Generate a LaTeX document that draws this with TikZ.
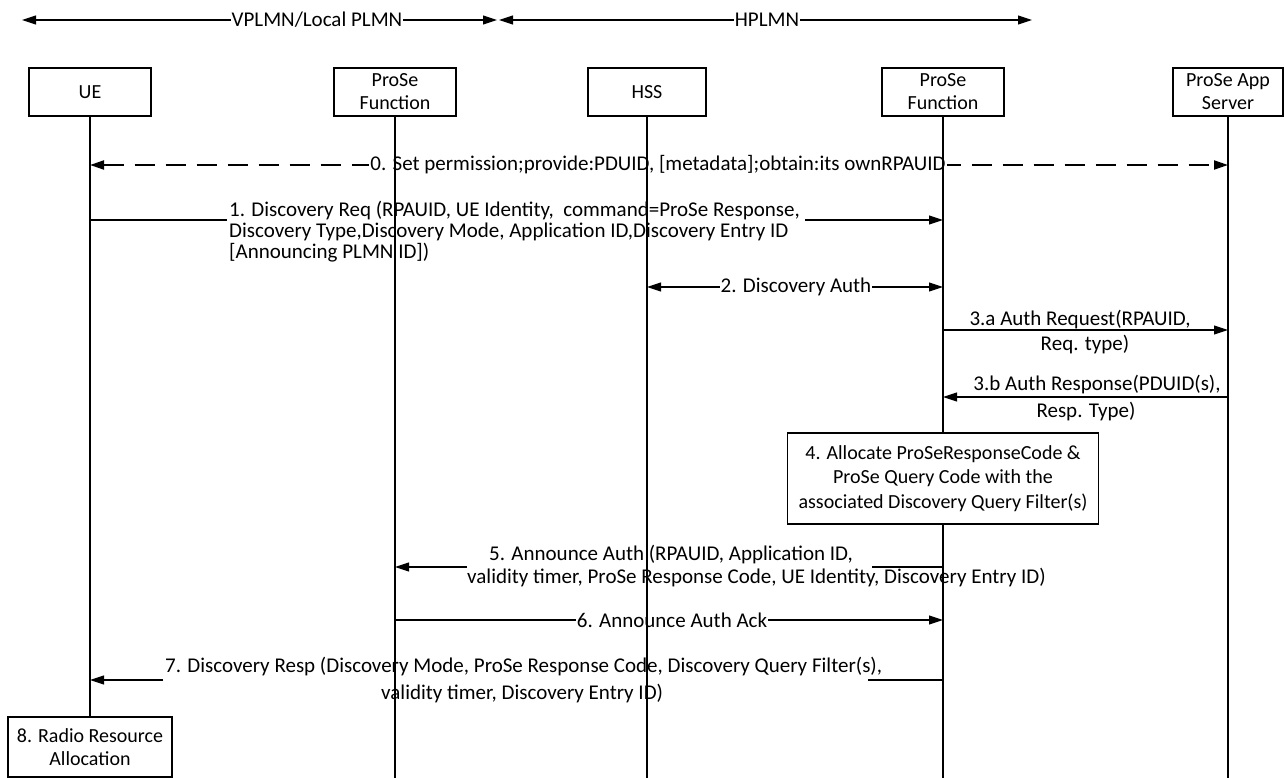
\documentclass[tikz,border=0pt]{standalone}
\usepackage{fontspec}
\setmainfont{Carlito}
\usetikzlibrary{arrows.meta}
\begin{document}
\begin{tikzpicture}[x=1pt,y=-1pt,
  every node/.style={font=\fontsize{21}{24}\selectfont, inner sep=0pt},
  actor/.style={draw, line width=1.1pt, minimum width=122pt, minimum height=48pt, align=center, fill=white, font=\fontsize{20}{24}\selectfont},
  procbox/.style={draw, line width=1.1pt, fill=white, align=center, font=\fontsize{20}{24}\selectfont},
  lifeline/.style={line width=1.1pt},
  msg/.style={line width=1.1pt},
  arrowend/.style={-{Triangle[length=14pt,width=9pt]}},
  twoheads/.style={{Triangle[length=14pt,width=9pt]}-{Triangle[length=14pt,width=9pt]}},
  dashmsg/.style={line width=2pt, dash pattern=on 20pt off 11pt},
  lbl/.style={fill=white, inner xsep=1pt, inner ysep=3pt},
  txt/.style={inner sep=0pt}]
\useasboundingbox (0,0) rectangle (1284,778);

% header arrows
\coordinate (hl1) at (22,20);
\coordinate (hr1) at (497,20);
\coordinate (hl2) at (499,20);
\coordinate (hr2) at (1032,20);
\draw[msg, twoheads] (hl1) -- (hr1);
\draw[msg, twoheads] (hl2) -- (hr2);
\node[lbl] (vplmn) at (317,20) {VPLMN/Local PLMN};
\node[lbl] (hplmn) at (767,20) {HPLMN};

% actors
\node[actor] (ue) at (90,92) {UE};
\node[actor] (pf1) at (395,92) {ProSe\\[-1pt]Function};
\node[actor, minimum width=118pt] (hss) at (647,92) {HSS};
\node[actor] (pf2) at (943,92) {ProSe\\[-1pt]Function};
\node[actor, minimum width=110pt] (as) at (1228,92) {ProSe App\\[-1pt]Server};
\coordinate (bot) at (0,778);

% message coordinates
\coordinate (m0) at (0,165);
\coordinate (m1a) at (227,220);
\coordinate (m1b) at (805,220);
\coordinate (m2) at (0,287);
\coordinate (m3a) at (0,330);
\coordinate (m3b) at (0,397);
\coordinate (m5a) at (467,567);
\coordinate (m5b) at (872,567);
\coordinate (m6) at (0,620);
\coordinate (m7a) at (163,680);
\coordinate (m7b) at (868,680);

% 0
\draw[dashmsg, twoheads] (ue |- m0) -- (as |- m0);
\node[lbl] (t0) at (658,165) {0. Set permission;provide:PDUID, [metadata];obtain:its ownRPAUID};

% 1
\draw[msg] (ue |- m1a) -- (m1a);
\draw[msg, arrowend] (m1b) -- (pf2 |- m1b);
\node[txt, anchor=west] (t1a) at (229,211) {1. Discovery Req (RPAUID, UE Identity,\ \ command=ProSe Response,};
\node[txt, anchor=west] (t1b) at (229,232) {Discovery Type,Discovery Mode, Application ID,Discovery Entry ID};
\node[txt, anchor=west] (t1c) at (229,253) {[Announcing PLMN ID])};

% 2
\draw[msg, twoheads] (hss |- m2) -- (pf2 |- m2);
\node[lbl] (t2) at (796,287) {2. Discovery Auth};

% 3a
\draw[msg, arrowend] (pf2 |- m3a) -- (as |- m3a);
\node[txt] (t3a) at (1080,320) {3.a Auth Request(RPAUID,};
\node[txt] (t3a2) at (1085,345) {Req. type)};

% 3b
\draw[msg, arrowend] (as |- m3b) -- (pf2 |- m3b);
\node[txt] (t3b) at (1097,385) {3.b Auth Response(PDUID(s),};
\node[txt] (t3b2) at (1086,412) {Resp. Type)};

% 5
\draw[msg] (pf2 |- m5b) -- (m5b);
\draw[msg, arrowend] (m5a) -- (pf1 |- m5a);
\node[txt, anchor=west] (t5a) at (489,555) {5. Announce Auth (RPAUID, Application ID,};
\node[txt, anchor=west] (t5b) at (467,578) {validity timer, ProSe Response Code, UE Identity, Discovery Entry ID)};

% 6
\draw[msg, arrowend] (pf1 |- m6) -- (pf2 |- m6);
\node[lbl] (t6) at (672,620) {6. Announce Auth Ack};

% 7
\draw[msg] (pf2 |- m7b) -- (m7b);
\draw[msg, arrowend] (m7a) -- (ue |- m7a);
\node[txt, anchor=west] (t7a) at (165,667) {7. Discovery Resp (Discovery Mode, ProSe Response Code, Discovery Query Filter(s),};
\node[txt, anchor=west] (t7b) at (381,694) {validity timer, Discovery Entry ID)};

% box at bottom of UE
\node[procbox, minimum width=164pt, minimum height=60pt] (rra) at (90,747) {8. Radio Resource\\[-1pt]Allocation};

% lifelines
\draw[lifeline] (ue.south) -- (rra.north);
\draw[lifeline] (pf1.south) -- (pf1 |- bot);
\draw[lifeline] (hss.south) -- (hss |- bot);
\draw[lifeline] (pf2.south) -- (pf2 |- bot);
\draw[lifeline] (as.south) -- (as |- bot);

% step 4 box
\node[procbox, minimum width=311pt, minimum height=91pt, font=\fontsize{20}{24.5}\selectfont] (alloc) at (943,478.5) {4. Allocate ProSeResponseCode \&\\ProSe Query Code with the\\associated Discovery Query Filter(s)};
\end{tikzpicture}
\end{document}
